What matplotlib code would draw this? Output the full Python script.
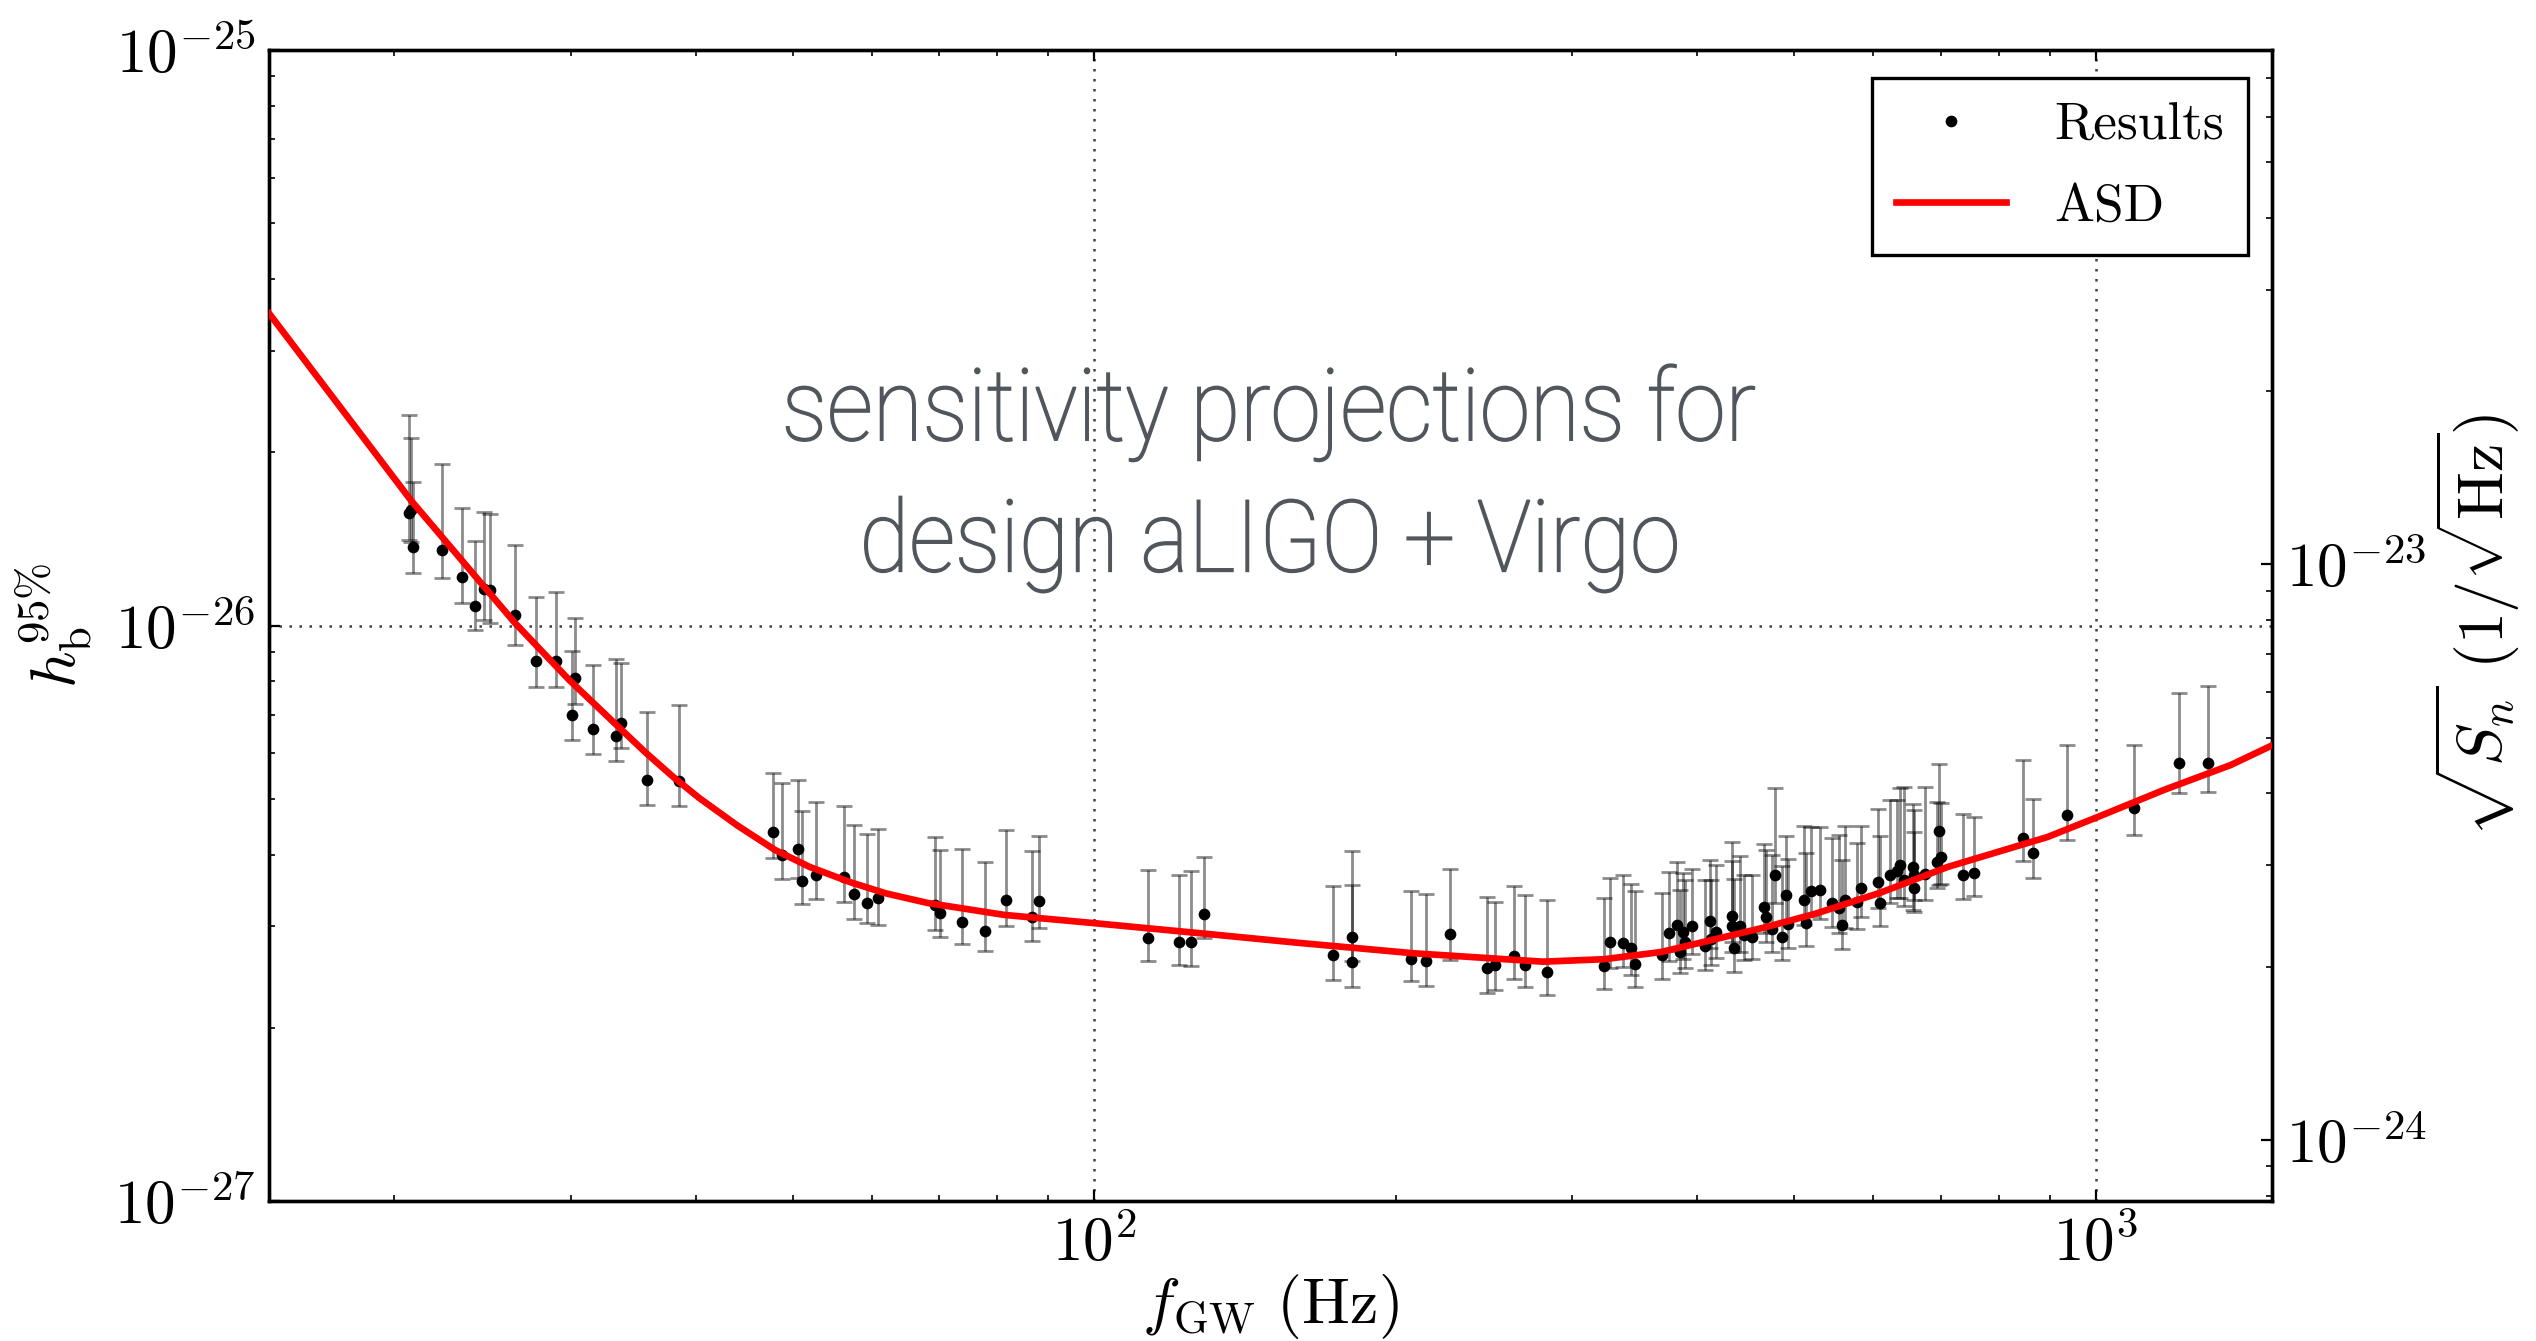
import matplotlib

matplotlib.use("Agg")
import matplotlib.pyplot as plt
import numpy as np
from matplotlib.font_manager import FontProperties
from matplotlib.patches import PathPatch
from matplotlib.textpath import TextPath
from matplotlib.ticker import FuncFormatter, LogLocator, NullFormatter
from matplotlib.transforms import Affine2D, IdentityTransform


# upper-limit results: frequency (Hz), h_b^95% and error-bar ends, all in units of 1e-27
freq_hz = [
    20.7, 20.8, 20.9, 22.3, 23.4, 24.1, 24.6, 24.9, 26.4, 27.7, 29.0, 30.1, 30.3, 31.6, 33.3, 33.7, 35.8, 38.5,
    47.8, 48.8, 50.6, 51.1, 52.7, 56.2, 57.5, 59.3, 60.9, 69.3, 70.2, 73.8, 77.8, 81.6, 86.6, 88.1,
    113.2, 121.6, 124.8, 128.8,
    173.3, 180.7, 181.0, 207.0, 214.6, 226.6, 246.7, 251.1, 262.4, 269.2, 283.0,
    322.8, 327.3, 337.5, 343.5, 346.7, 369.2, 374.7, 382.1, 384.8, 387.2, 389.0, 395.3, 407.3, 412.3,
    413.2, 418.0, 433.5, 433.2, 434.9, 441.0, 445.3, 453.3, 467.0, 468.8, 475.3, 478.2, 486.7, 490.8,
    493.1, 511.2, 513.2, 520.3, 530.6, 545.5, 554.3, 558.1, 562.0, 577.7, 583.1, 605.9, 609.1, 623.8,
    632.9, 638.3, 644.2, 656.7, 658.2, 659.2, 674.9, 693.7, 696.9, 701.5, 736.7, 755.4, 845.7, 866.7,
    936.3, 1091.0, 1212.0, 1294.0,
]
h_95 = [
    15.67, 15.88, 13.71, 13.53, 12.13, 10.82, 11.57, 11.51, 10.44, 8.68, 8.68, 6.99, 8.12, 6.61, 6.43, 6.77, 5.40, 5.37,
    4.37, 4.00, 4.09, 3.60, 3.69, 3.66, 3.41, 3.30, 3.36, 3.27, 3.16, 3.05, 2.94, 3.33, 3.11, 3.32,
    2.86, 2.82, 2.82, 3.15,
    2.68, 2.87, 2.60, 2.63, 2.61, 2.91, 2.54, 2.57, 2.66, 2.57, 2.50,
    2.56, 2.82, 2.81, 2.75, 2.58, 2.68, 2.92, 3.02, 2.71, 2.93, 2.82, 3.00, 2.77, 3.06,
    2.85, 2.93, 3.13, 3.00, 2.75, 3.00, 2.90, 2.87, 3.24, 3.12, 2.97, 3.69, 2.87, 3.40,
    3.03, 3.34, 3.04, 3.46, 3.47, 3.30, 3.23, 3.02, 3.34, 3.31, 3.50, 3.59, 3.29, 3.68,
    3.75, 3.84, 3.61, 3.80, 3.50, 3.69, 3.70, 3.88, 4.39, 3.96, 3.68, 3.71, 4.28, 4.02,
    4.68, 4.82, 5.78, 5.78,
]
h_low = [
    14.08, 13.97, 12.34, 12.09, 10.94, 9.82, 10.22, 10.10, 9.25, 7.82, 7.82, 6.32, 7.31, 5.98, 5.81, 6.13, 4.88, 4.86,
    3.94, 3.62, 3.64, 3.28, 3.35, 3.31, 3.09, 3.04, 3.02, 2.96, 2.87, 2.80, 2.72, 3.01, 2.83, 2.98,
    2.61, 2.57, 2.56, 2.86,
    2.42, 2.61, 2.35, 2.41, 2.36, 2.62, 2.30, 2.33, 2.43, 2.35, 2.28,
    2.34, 2.54, 2.55, 2.47, 2.35, 2.43, 2.61, 2.72, 2.49, 2.63, 2.54, 2.69, 2.52, 2.75,
    2.57, 2.64, 2.82, 2.71, 2.50, 2.71, 2.62, 2.63, 2.92, 2.82, 2.71, 3.30, 2.62, 3.07,
    2.75, 3.02, 2.77, 3.13, 3.09, 2.99, 2.92, 2.74, 2.98, 2.97, 3.12, 3.23, 3.00, 3.30,
    3.36, 3.36, 3.26, 3.20, 3.18, 3.33, 3.33, 3.50, 3.54, 3.55, 3.35, 3.39, 3.89, 3.64,
    4.24, 4.32, 5.12, 5.14,
]
h_high = [
    23.22, 21.17, 17.76, 19.08, 16.00, 14.02, 15.75, 15.62, 13.80, 11.21, 11.43, 9.03, 10.30, 8.54, 8.74, 8.61, 7.07, 7.27,
    5.54, 5.32, 5.40, 4.77, 4.94, 4.85, 4.51, 4.34, 4.43, 4.29, 4.08, 4.09, 3.88, 4.41, 4.05, 4.30,
    3.76, 3.69, 3.75, 3.96,
    3.53, 4.06, 3.54, 3.46, 3.41, 3.78, 3.38, 3.31, 3.53, 3.40, 3.33,
    3.36, 3.64, 3.69, 3.55, 3.45, 3.43, 3.73, 3.88, 3.47, 3.71, 3.61, 3.77, 3.61, 3.91,
    3.61, 3.84, 4.21, 3.90, 3.63, 3.98, 3.69, 3.69, 4.17, 4.07, 3.99, 5.22, 3.82, 4.30,
    3.93, 4.49, 4.02, 4.47, 4.47, 4.27, 4.33, 3.91, 4.49, 4.19, 4.49, 4.79, 4.30, 4.97,
    4.98, 5.23, 5.24, 4.90, 4.78, 4.38, 5.25, 4.93, 5.74, 4.92, 4.71, 4.65, 5.85, 4.99,
    6.19, 6.20, 7.62, 7.85,
]

# network amplitude spectral density, 1/sqrt(Hz)
asd_freq_hz = [15, 20.8, 26.4, 29.9, 33.0, 35.6, 38.0, 40.3, 44.0, 48.0, 52.0, 57.2, 62.0, 68.2, 81.3, 100,
               126.2, 159.8, 208.2, 280.6, 322.8, 368.0, 420.6, 467.5, 524.4, 610.2, 711.6, 895.6, 1005,
               1172, 1364, 1509]
asd_values = [2.73e-23, 1.29e-23, 7.91e-24, 6.30e-24, 5.35e-24, 4.72e-24, 4.27e-24, 3.93e-24, 3.52e-24,
              3.19e-24, 2.98e-24, 2.80e-24, 2.68e-24, 2.58e-24, 2.46e-24, 2.38e-24, 2.29e-24, 2.20e-24,
              2.11e-24, 2.04e-24, 2.06e-24, 2.12e-24, 2.24e-24, 2.34e-24, 2.47e-24, 2.69e-24, 2.98e-24,
              3.36e-24, 3.64e-24, 4.06e-24, 4.48e-24, 4.87e-24]

annotation_lines = ["sensitivity projections for", "design aLIGO + Virgo"]


def _power_label(value, _pos):
    return r"$10^{%d}$" % int(round(np.log10(value)))


def _style_log_axis(axis):
    axis.tick_params(which="both", direction="in")
    axis.tick_params(which="major", length=4, width=0.8, labelsize=22, pad=5)
    axis.tick_params(which="minor", length=2, width=0.6)


def _condensed_text(fig, ax, lines, baselines, width_px, em_px, color):
    # the reference uses a condensed face, so squeeze a normal one horizontally
    prop = FontProperties(family="Roboto", weight="light")
    paths = [TextPath((0, 0), line, size=em_px, prop=prop) for line in lines]
    squeeze = width_px / paths[0].get_extents().width
    for path, base in zip(paths, baselines):
        ext = path.get_extents()
        cx, cy = ax.transAxes.transform((0.5, base))
        shift = Affine2D().translate(-ext.x0, 0).scale(squeeze, 1.0)
        shift = shift.translate(cx - ext.width * squeeze / 2.0, cy)
        fig.add_artist(PathPatch(shift.transform_path(path), facecolor=color, edgecolor=color,
                                 linewidth=0.55, transform=IdentityTransform(), zorder=5))


plt.rcParams["mathtext.fontset"] = "cm"
plt.rcParams["axes.linewidth"] = 1.2

fig = plt.figure(figsize=(12.68, 6.705), dpi=200)
ax = fig.add_axes([0.1061, 0.1044, 0.7898, 0.8583])
ax.set_xscale("log")
ax.set_yscale("log")

scale = 1e-27
f = np.array(freq_hz)
h = np.array(h_95) * scale
lo = np.array(h_low) * scale
hi = np.array(h_high) * scale

ax.errorbar(f, h, yerr=[h - lo, hi - h], fmt="none", ecolor="k", alpha=0.45,
            elinewidth=1.0, capsize=2.8, capthick=1.0, zorder=2)
ax.plot(f, h, "o", color="k", ms=3.2, mec="k", zorder=3, label="Results")

ax.set_xlim(15, 1500)
ax.set_ylim(1e-27, 1e-25)
ax.grid(True, which="major", color="0.25", linestyle=(0, (1, 3)), linewidth=0.9)
ax.xaxis.set_major_formatter(FuncFormatter(_power_label))
ax.xaxis.set_minor_formatter(NullFormatter())
ax.yaxis.set_major_formatter(FuncFormatter(_power_label))
ax.yaxis.set_minor_locator(LogLocator(subs=np.arange(2, 10)))
ax.yaxis.set_minor_formatter(NullFormatter())
ax.tick_params(which="both", top=True, right=False)
_style_log_axis(ax)

ax2 = ax.twinx()
ax2.set_yscale("log")
ax2.plot(asd_freq_hz, asd_values, color="red", linewidth=2.4, zorder=4, label="ASD")
ax2.set_ylim(7.83e-25, 7.83e-23)
ax2.yaxis.set_major_formatter(FuncFormatter(_power_label))
ax2.yaxis.set_minor_locator(LogLocator(subs=np.arange(2, 10)))
ax2.yaxis.set_minor_formatter(NullFormatter())
_style_log_axis(ax2)

ax.set_xlabel(r"$f_{\mathrm{GW}}\ (\mathrm{Hz})$", fontsize=23)
ax.set_ylabel(r"$h_{\mathrm{b}}^{95\%}$", fontsize=23)
ax2.set_ylabel(r"$\sqrt{S_n}\ (1/\sqrt{\mathrm{Hz}})$", fontsize=23)
ax.xaxis.set_label_coords(0.5, -0.062)
ax.yaxis.set_label_coords(-0.087, 0.5)
ax2.yaxis.set_label_coords(1.08, 0.5)

_condensed_text(fig, ax, annotation_lines, [0.661, 0.547], width_px=968, em_px=100, color="#51565d")

handles = ax.get_legend_handles_labels()[0] + ax2.get_legend_handles_labels()[0]
leg = ax2.legend(handles, ["Results", "ASD"], loc="upper right", bbox_to_anchor=(0.988, 0.9757),
                 prop={"family": "cmr10", "size": 19.2}, fancybox=False, framealpha=1,
                 edgecolor="k", handlelength=2.07, borderaxespad=0.0, labelspacing=0.64,
                 handletextpad=0.9, borderpad=0.45)
leg.get_frame().set_linewidth(1.2)

fig.savefig("out.png", dpi=200, facecolor="white")
